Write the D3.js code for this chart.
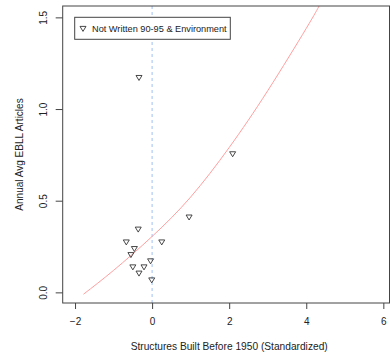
<!DOCTYPE html>
<head>
    <meta charset="utf-8">
    <style>
      body {
          margin: 0;
          background: #fff;
      }
      svg text {
          font-family: 'Liberation Sans', Arial, sans-serif;
          fill: #222;
      }
      .tick line, .domain {
        stroke: #444;
      }
  </style>
</head>
<body>
<svg id="chart" width="390" height="358"></svg>
<script src="https://cdn.jsdelivr.net/npm/d3@7"></script>
<script>
  // points
  var pointX = [-0.34, 2.09, 0.96, -0.36, -0.67, 0.25, -0.46, -0.55, -0.04, -0.50, -0.21, -0.34, -0.01];
  var pointY = [1.171, 0.755, 0.41, 0.344, 0.274, 0.274, 0.238, 0.205, 0.171, 0.138, 0.138, 0.104, 0.067];

  // fitted curve
  var curveX = [-1.78, -1, 0, 1, 2, 3, 4, 4.34];
  var curveY = [-0.01, 0.12, 0.305, 0.52, 0.79, 1.10, 1.44, 1.565];

  var xTicks = [-2, 0, 2, 4, 6];
  var yTicks = [0, 0.5, 1.0, 1.5];
  var legendLabel = "Not Written 90-95 & Environment";

  var svg = d3.select("#chart");
  var box = { left: 62.7, top: 6, right: 389.5, bottom: 303 };

  var x = d3.scaleLinear()
      .domain([-2.32, 6.16])
      .range([box.left, box.right]);
  var y = d3.scaleLinear()
      .domain([-0.058, 1.562])
      .range([box.bottom, box.top]);

  svg.append("defs").append("clipPath")
      .attr("id", "clip")
    .append("rect")
      .attr("x", box.left)
      .attr("y", box.top)
      .attr("width", box.right - box.left)
      .attr("height", box.bottom - box.top);

  // x=0 reference
  svg.append("line")
      .attr("x1", x(0)).attr("x2", x(0))
      .attr("y1", box.top).attr("y2", box.bottom)
      .attr("stroke", "#9fbff5")
      .attr("stroke-width", 1)
      .attr("stroke-dasharray", "3,3");

  // fitted curve
  var line = d3.line()
      .x(function(d) { return x(d[0]); })
      .y(function(d) { return y(d[1]); })
      .curve(d3.curveNatural);

  svg.append("path")
      .datum(d3.zip(curveX, curveY))
      .attr("clip-path", "url(#clip)")
      .attr("fill", "none")
      .attr("stroke", "#ff9e9e")
      .attr("stroke-width", 1)
      .attr("d", line);

  // triangles, point down
  var tri = "M-3,-2.2L3,-2.2L0,2.8Z";
  svg.append("g")
    .selectAll("path")
    .data(d3.zip(pointX, pointY))
    .enter().append("path")
      .attr("transform", function(d) { return "translate(" + x(d[0]) + "," + y(d[1]) + ")"; })
      .attr("d", tri)
      .attr("fill", "none")
      .attr("stroke", "#333")
      .attr("stroke-width", 0.9);

  // box
  svg.append("rect")
      .attr("x", box.left)
      .attr("y", box.top)
      .attr("width", box.right - box.left)
      .attr("height", box.bottom - box.top)
      .attr("fill", "none")
      .attr("stroke", "#444");

  var gx = svg.append("g")
      .attr("transform", "translate(0," + box.bottom + ")")
      .call(d3.axisBottom(x).tickValues(xTicks).tickSize(6).tickPadding(9).tickFormat(d3.format("d")));
  gx.select(".domain").remove();
  gx.selectAll("text").style("font-size", "10px");

  var gy = svg.append("g")
      .attr("transform", "translate(" + box.left + ",0)")
      .call(d3.axisLeft(y).tickValues(yTicks).tickSize(7).tickPadding(0).tickFormat(d3.format(".1f")));
  gy.select(".domain").remove();
  gy.selectAll(".tick text")
      .style("font-size", "10px")
      .attr("x", 0)
      .attr("dy", null)
      .attr("text-anchor", "middle")
      .attr("transform", "translate(-19,0) rotate(-90)")
      .attr("dominant-baseline", "central");

  svg.append("text")
      .attr("x", (x(-2) + x(6)) / 2)
      .attr("y", 350)
      .attr("text-anchor", "middle")
      .style("font-size", "10.2px")
      .text("Structures Built Before 1950 (Standardized)");

  svg.append("text")
      .attr("transform", "translate(23," + ((box.top + box.bottom) / 2) + ") rotate(-90)")
      .attr("text-anchor", "middle")
      .style("font-size", "10px")
      .text("Annual Avg EBLL Articles");

  // legend
  var lg = svg.append("g");
  lg.append("rect")
      .attr("x", 74.7).attr("y", 17.3)
      .attr("width", 155.6).attr("height", 22)
      .attr("fill", "#fff")
      .attr("stroke", "#444");
  lg.append("path")
      .attr("transform", "translate(83,28.6)")
      .attr("d", tri)
      .attr("fill", "none")
      .attr("stroke", "#333")
      .attr("stroke-width", 0.9);
  lg.append("text")
      .attr("x", 92)
      .attr("y", 28.6)
      .attr("dominant-baseline", "central")
      .style("font-size", "9.2px")
      .text(legendLabel);
</script>
</body>
